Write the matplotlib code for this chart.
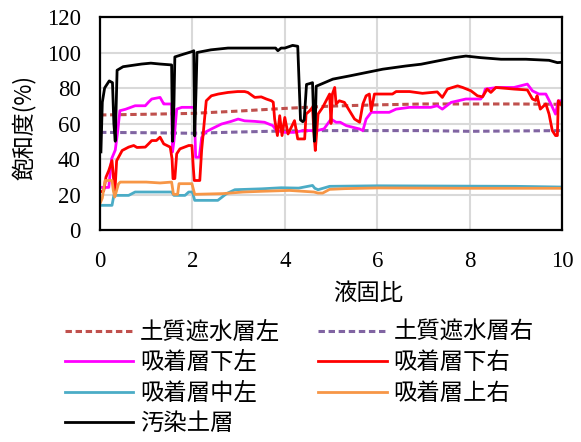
import matplotlib
matplotlib.use("Agg")
import matplotlib.pyplot as plt

plt.rcParams["font.family"] = ["Liberation Serif", "DejaVu Serif"]
JP = ["Noto Sans CJK JP", "DejaVu Sans"]

# 土質遮水層 (dashed)
dash_x = [0, 1, 2, 3, 4, 5, 6, 7, 8, 9, 10]
left_liner = [64.8, 65.2, 65.7, 67.0, 68.5, 69.8, 70.5, 71.0, 71.0, 71.0, 70.8]
right_liner = [55.0, 54.8, 54.5, 55.2, 55.8, 56.0, 56.0, 56.0, 55.6, 55.8, 56.0]

# 汚染土層
soil_x = [0.02, 0.05, 0.1, 0.2, 0.27, 0.3, 0.33, 0.37, 0.5, 0.9, 1.1, 1.3, 1.55, 1.57,
          1.6, 1.62, 1.8, 1.99, 2.03, 2.05, 2.08, 2.1, 2.4, 2.77, 3.2, 3.6, 3.8, 3.85,
          3.92, 4.0, 4.17, 4.28, 4.34, 4.39, 4.42, 4.47, 4.54, 4.6, 4.64, 4.66, 4.68,
          5.04, 5.4, 5.76, 6.12, 6.62, 6.95, 7.3, 7.67, 7.92, 8.24, 8.68, 9.22, 9.72,
          9.9, 10.0]
soil_y = [44, 72, 80, 84, 83, 60, 50, 90, 92, 93.5, 94, 93.5, 93, 50,
          70, 97.5, 99, 100.5, 101, 53, 80, 100, 101.5, 102.5, 102.5, 102.5, 102.5, 101,
          102.5, 102.5, 104, 103.5, 62, 61, 62, 82, 82.5, 83, 50, 60, 81,
          85, 86.8, 88.7, 90.6, 92.4, 93.4, 95.2, 97.1, 98, 97.1, 96.2, 96.2, 95.6,
          94.3, 94.5]

# 吸着層下左
low_l_x = [0.0, 0.19, 0.25, 0.33, 0.38, 0.43, 0.55, 0.76, 0.98, 1.05, 1.12, 1.3, 1.38,
           1.41, 1.55, 1.57, 1.6, 1.66, 1.77, 1.99, 2.04, 2.07, 2.15, 2.2, 2.27, 2.41,
           2.63, 2.84, 2.99, 3.13, 3.35, 3.56, 3.74, 3.82, 4.0, 4.2, 4.4, 4.7, 4.85,
           5.0, 5.11, 5.2, 5.33, 5.62, 5.69, 5.76, 5.87, 6.26, 6.41, 6.7, 7.16, 7.3,
           7.41, 7.6, 7.92, 8.24, 8.3, 8.34, 8.6, 8.96, 9.25, 9.36, 9.5, 9.65, 9.76,
           9.86, 9.92, 10.0]
low_l_y = [24, 24, 40, 45, 55, 67.2, 68, 70, 70, 72, 73.8, 74.7, 71,
           71, 71, 44, 50, 68.1, 69.1, 69.1, 69, 41, 41, 52, 55, 56.9,
           59.7, 61.2, 62.5, 61.5, 61.2, 60.7, 58.8, 56, 55, 55, 56, 56, 57,
           62.5, 60.7, 60.7, 58.8, 56.9, 56, 62.5, 66.3, 66.3, 68.1, 69.1, 69.1, 70,
           68.1, 71.9, 73.8, 73.8, 76, 79.4, 80.3, 80.3, 82.2, 78.4, 76.6, 76.6, 71,
           65.3, 72.8, 72.8]

# 吸着層下右
low_r_x = [0.0, 0.08, 0.13, 0.19, 0.26, 0.29, 0.32, 0.36, 0.48, 0.62, 0.73, 0.8, 0.98,
           1.05, 1.12, 1.22, 1.3, 1.38, 1.52, 1.56, 1.58, 1.62, 1.66, 1.73, 1.92, 1.99,
           2.02, 2.04, 2.16, 2.2, 2.3, 2.41, 2.56, 2.77, 2.98, 3.13, 3.2, 3.35, 3.49,
           3.6, 3.71, 3.75, 3.78, 3.84, 3.89, 3.94, 4.0, 4.07, 4.21, 4.28, 4.43, 4.46,
           4.54, 4.6, 4.63, 4.66, 4.72, 4.82, 4.97, 5.0, 5.03, 5.08, 5.11, 5.18, 5.29,
           5.4, 5.51, 5.62, 5.69, 5.76, 5.83, 5.87, 5.94, 6.33, 6.41, 6.7, 6.98, 7.3,
           7.41, 7.52, 7.74, 7.85, 8.03, 8.17, 8.28, 8.38, 8.46, 8.57, 8.96, 9.25,
           9.36, 9.43, 9.46, 9.53, 9.65, 9.72, 9.79, 9.86, 9.9, 9.92, 10.0]
low_r_y = [21.4, 22, 29.8, 33.5, 39.1, 30, 20.5, 39, 44.8, 46.7, 47.6, 46.5, 46.7,
           48.5, 50.4, 50.4, 52.3, 48.5, 46.7, 40, 28.9, 29, 42.9, 45.7, 47.6, 47.6,
           35, 27.9, 27.9, 45, 72.8, 75.6, 76.6, 77.5, 78, 78, 77.5, 74.7, 75,
           73.8, 72.8, 72, 62.5, 53.2, 64.4, 53.2, 63.4, 54.1, 61.6, 51.3, 51.3, 65.3,
           67.2, 69.1, 55, 44.8, 65.3, 69.1, 76.6, 60, 76.6, 80.3, 71, 72.8, 71.9,
           67.2, 62.5, 60.7, 71, 75.6, 76.6, 67.2, 76.6, 76.6, 78, 78, 77, 77.8,
           74.7, 79.4, 81.2, 80.3, 78.4, 75.6, 75, 79.4, 77.5, 80.3, 79.4, 78.9,
           73.8, 73, 75.6, 68.1, 71, 65.3, 56, 53.2, 53.2, 72.8, 70]

# 吸着層中左
mid_l_x = [0.0, 0.26, 0.3, 0.62, 0.76, 1.55, 1.6, 1.84, 1.92, 2.0, 2.05, 2.55, 2.74,
           2.92, 3.5, 3.92, 4.3, 4.6, 4.65, 4.72, 4.97, 6.0, 8.0, 9.0, 10.0]
mid_l_y = [13.9, 13.9, 19.5, 19.5, 21.4, 21.4, 19.5, 19.5, 21.4, 21.4, 16.7, 16.7, 20.5,
           22.7, 23.2, 23.8, 23.6, 25.1, 23.5, 22.7, 24.6, 24.9, 24.7, 24.6, 24.2]

# 吸着層上右
up_r_x = [0.0, 0.05, 0.11, 0.26, 0.29, 0.32, 0.4, 0.44, 1.0, 1.3, 1.55, 1.59, 1.68,
          1.71, 1.99, 2.03, 2.05, 2.66, 3.1, 3.5, 4.1, 4.63, 4.72, 4.82, 4.97, 5.3,
          6.0, 8.0, 10.0]
up_r_y = [14.9, 18, 27.9, 27.9, 22, 18.6, 26, 27, 27, 26.5, 27, 20.1, 20.1,
          26.1, 26.1, 22, 20.1, 20.5, 21.4, 21.8, 22.3, 21.4, 20.8, 20.8, 22.9, 23.3,
          23.7, 23.5, 23.5]

fig = plt.figure(figsize=(5.81, 4.42), dpi=100)
ax = fig.add_axes([100 / 581, 1 - 230 / 442, 462 / 581, 213 / 442])

dashes = (0, (2.1, 1.2))
l1, = ax.plot(dash_x, left_liner, color="#C0504D", lw=2.2, ls=dashes)
l2, = ax.plot(dash_x, right_liner, color="#8064A2", lw=2.2, ls=dashes)
l3, = ax.plot(low_l_x, low_l_y, color="#FF00FF", lw=2)
l4, = ax.plot(low_r_x, low_r_y, color="#FF0000", lw=2)
l5, = ax.plot(mid_l_x, mid_l_y, color="#4BACC6", lw=2)
l6, = ax.plot(up_r_x, up_r_y, color="#F79646", lw=2)
l7, = ax.plot(soil_x, soil_y, color="black", lw=2)

ax.set_xlim(0, 10)
ax.set_ylim(0, 120)
ax.set_xticks(range(0, 11, 2))
ax.set_yticks(range(0, 121, 20))
ax.grid(True, color="#D9D9D9", lw=1.5)
ax.set_axisbelow(True)
for s in ax.spines.values():
    s.set_color("black")
    s.set_linewidth(1.6)
ax.tick_params(length=0, labelsize=16.5)
ax.tick_params(axis="x", pad=15)
ax.tick_params(axis="y", pad=14)

fig.text(368 / 581, 1 - 293 / 442, "液固比", family=JP, fontsize=16.8,
         ha="center", va="center")
fig.text(24 / 581, 1 - 127 / 442, "飽和度(%)", family=JP, fontsize=16.5,
         ha="center", va="center", rotation=90)

# column-major order so the rows read left/right like the original
handles = [l1, l3, l5, l7, l2, l4, l6]
labels = ["土質遮水層左", "吸着層下左", "吸着層中左", "汚染土層",
          "土質遮水層右", "吸着層下右", "吸着層上右"]
fig.legend(handles, labels, loc="upper left", bbox_to_anchor=(65 / 581, 1 - 321 / 442),
           ncol=2, frameon=False, prop={"family": JP, "size": 16.8},
           handlelength=2.92, handletextpad=0.3, columnspacing=1.63,
           labelspacing=0.32, borderpad=0, borderaxespad=0)

fig.savefig("out.png", dpi=100)
